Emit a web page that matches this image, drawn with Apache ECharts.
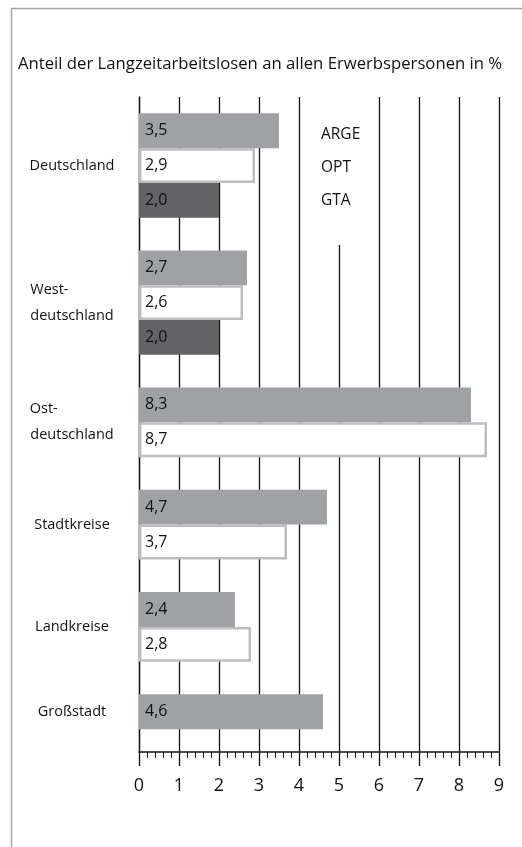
<!DOCTYPE html>
<html><head><meta charset="utf-8">
<script src="https://cdn.jsdelivr.net/npm/echarts@6/dist/echarts.min.js"></script>
<style>html,body{margin:0;padding:0;background:#fff}#c{width:522px;height:847px}</style>
</head><body><div id="c"></div>
<script>
// ---- data ----
const groups = ['Deutschland', 'West-\ndeutschland', 'Ost-\ndeutschland', 'Stadtkreise', 'Landkreise', 'Großstadt'];
const seriesNames = ['ARGE', 'OPT', 'GTA'];
const argeValues = [3.5, 2.7, 8.3, 4.7, 2.4, 4.6];
const optValues  = [2.9, 2.6, 8.7, 3.7, 2.8, null];
const gtaValues  = [2.0, 2.0, null, null, null, null];
const xTickLabels = ['0', '1', '2', '3', '4', '5', '6', '7', '8', '9'];
const titleText = 'Anteil der Langzeitarbeitslosen an allen Erwerbspersonen in %';

// ---- layout (row slots on the category axis) ----
const BAR_U = 16, GAP_U = 15, START_U = 15, TOTAL_U = 301;
const GRID_TOP = 97, GRID_BOTTOM = 95, GRID_LEFT = 139, GRID_RIGHT = 23;
const FONT = '"Open Sans", "Noto Sans", sans-serif';
const CAT_SIZE = 14.5;

const seriesValues = [argeValues, optValues, gtaValues];
const rows = [];
for (let i = 0; i < TOTAL_U; i++) rows.push(String(i));
const rowLabels = {};
const rowData = seriesValues.map(() => new Array(TOTAL_U).fill(null));

// left-align lines of multi-line category names inside a centred block
const mctx = document.createElement('canvas').getContext('2d');
mctx.font = CAT_SIZE + 'px ' + FONT;
function padLines(name) {
  const lines = name.split('\n');
  if (lines.length < 2) return name;
  const maxW = Math.max(...lines.map(l => mctx.measureText(l).width));
  const sp = mctx.measureText('\u00a0').width || 4;
  return lines.map(l => l + '\u00a0'.repeat(Math.round((maxW - mctx.measureText(l).width) / sp))).join('\n');
}

let cursor = START_U;
groups.forEach((g, gi) => {
  const present = [];
  seriesValues.forEach((arr, si) => { if (arr[gi] != null) present.push(si); });
  const first = cursor;
  present.forEach((si, k) => { rowData[si][first + k * BAR_U] = seriesValues[si][gi]; });
  const last = first + (present.length - 1) * BAR_U;
  rowLabels[first + (last - first) / 2] = g;
  cursor = last + BAR_U + GAP_U;
});

const chart = echarts.init(document.getElementById('c'), null, {renderer: 'canvas'});
const gridH = 847 - GRID_TOP - GRID_BOTTOM;
const barW = gridH / TOTAL_U * BAR_U;

const styles = [
  {color: '#a0a1a4'},
  {color: '#ffffff', borderColor: '#bdbdbf', borderWidth: 2.5},
  {color: '#636365'}
];

chart.setOption({
  animation: false,
  backgroundColor: '#fff',
  textStyle: {fontFamily: FONT},
  title: {
    text: titleText, left: 13, top: 51,
    textStyle: {fontSize: 16.7, fontWeight: 'normal', color: '#111', fontFamily: FONT}
  },
  graphic: [
    {type: 'line', shape: {x1: 11.5, y1: 8.5, x2: 11.5, y2: 847}, style: {stroke: '#a3a3a3', lineWidth: 1.5}},
    {type: 'line', shape: {x1: 11, y1: 8.5, x2: 522, y2: 8.5}, style: {stroke: '#a3a3a3', lineWidth: 1.5}}
  ],
  legend: {
    data: seriesNames, icon: 'none', orient: 'vertical',
    left: 301, top: GRID_TOP, itemWidth: 0, itemHeight: 14, itemGap: 13,
    padding: [28, 16, 34, 15], backgroundColor: '#fff', selectedMode: false, z: 10,
    textStyle: {fontSize: 15.5, color: '#111', lineHeight: 20, fontFamily: FONT}
  },
  grid: {top: GRID_TOP, bottom: GRID_BOTTOM, left: GRID_LEFT, right: GRID_RIGHT, containLabel: false},
  xAxis: {
    type: 'value', min: 0, max: 9, interval: 1, position: 'bottom',
    axisLine: {show: true, lineStyle: {color: '#111', width: 1.6}},
    axisTick: {show: true, length: 14, lineStyle: {color: '#111', width: 1.3}},
    minorTick: {show: true, splitNumber: 5, length: 6, lineStyle: {color: '#111', width: 1}},
    splitLine: {show: true, lineStyle: {color: '#111', width: 1.3}},
    axisLabel: {fontSize: 18, color: '#111', margin: 25, fontFamily: FONT,
      formatter: v => xTickLabels[Math.round(v)] ?? ''}
  },
  yAxis: {
    type: 'category', data: rows, inverse: true,
    axisLine: {show: true, lineStyle: {color: '#111', width: 1.3}},
    axisTick: {show: false},
    splitLine: {show: false},
    axisLabel: {interval: 0, align: 'center', margin: 67, fontSize: CAT_SIZE, color: '#111',
      lineHeight: 26, fontFamily: FONT,
      formatter: (v, i) => rowLabels[i] ? padLines(rowLabels[i]) : ''}
  },
  series: seriesNames.map((name, si) => ({
    name, type: 'bar', data: rowData[si], barGap: '-100%', barWidth: barW,
    itemStyle: styles[si],
    label: {show: true, position: 'insideLeft', distance: 6, fontSize: 16, color: '#111',
      fontFamily: FONT,
      formatter: p => p.value == null ? '' : p.value.toFixed(1).replace('.', ',')}
  }))
});
</script>
</body></html>
